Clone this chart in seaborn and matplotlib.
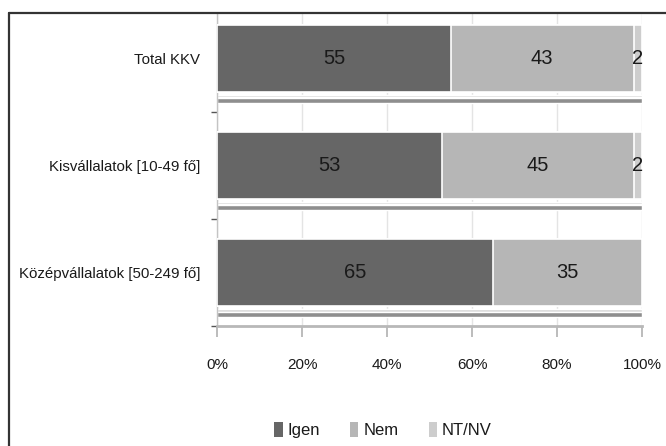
import matplotlib
matplotlib.use("Agg")
import matplotlib.pyplot as plt
from matplotlib.patches import Patch
from matplotlib.lines import Line2D
import numpy as np
import pandas as pd
import seaborn as sns

# Survey answers by company size (percent)
categories = ["Total KKV", "Kisvállalatok [10-49 fő]", "Középvállalatok [50-249 fő]"]
series_names = ["Igen", "Nem", "NT/NV"]
igen = [55, 53, 65]
nem = [43, 45, 35]
ntnv = [2, 2, 0]
x_ticks = [0, 20, 40, 60, 80, 100]
x_tick_labels = ["0%", "20%", "40%", "60%", "80%", "100%"]

colors = ["#666666", "#b6b6b6", "#cdcdcd"]
text_color = "#1a1a1a"

sns.set_theme(style="white")
plt.rcParams["font.family"] = ["Liberation Sans Narrow", "Liberation Sans", "DejaVu Sans"]

values = np.array([igen, nem, ntnv], dtype=float)
cumulative = values.cumsum(axis=0)

fig = plt.figure(figsize=(6.66, 4.46), dpi=100)
ax = fig.add_axes([217 / 666, 1 - 326 / 446, 425 / 666, 313 / 446])

bar_height = 0.626

# stacked bars: draw the running totals from the widest down
for i in range(len(series_names) - 1, -1, -1):
    df = pd.DataFrame({"cat": categories, "val": cumulative[i]})
    sns.barplot(data=df, x="val", y="cat", orient="h", color=colors[i],
                saturation=1, width=bar_height, edgecolor="white",
                linewidth=1.2, ax=ax, zorder=3)

# thin depth band under each bar
positions = np.arange(len(categories))
totals = cumulative[-1]
ax.barh(positions + 0.352, totals, height=0.025, color="#d6d6d6", zorder=2)
ax.barh(positions + 0.392, totals, height=0.045, color="#8e8e8e", zorder=2)

# value labels at the middle of each segment
for i in range(len(series_names)):
    for j in range(len(categories)):
        v = values[i, j]
        if v <= 0:
            continue
        xc = cumulative[i, j] - v / 2
        ax.text(xc, j, f"{int(v)}", ha="center", va="center",
                fontsize=14.5, color=text_color, zorder=5)

ax.set_xlim(0, 100)
ax.set_ylim(2.5, -0.425)
ax.set_xticks(x_ticks)
ax.set_xticklabels(x_tick_labels)
ax.set_xlabel("")
ax.set_ylabel("")
ax.set_yticks(positions)
ax.set_yticklabels(categories)
ax.set_yticks([0.5, 1.5, 2.5], minor=True)

ax.grid(axis="x", color="#e4e4e4", linewidth=1, zorder=0)
ax.grid(axis="y", visible=False)
ax.set_axisbelow(True)

ax.tick_params(axis="y", which="major", length=0, pad=12, labelsize=10.8,
               labelcolor=text_color)
ax.tick_params(axis="y", which="minor", left=True, length=4, width=1,
               color="#555555")
ax.tick_params(axis="x", which="major", bottom=True, length=8, width=1.2,
               color="#b0b0b0", pad=15, labelsize=11, labelcolor=text_color)

for side in ["top", "right"]:
    ax.spines[side].set_visible(False)
ax.spines["left"].set_color("#c4c4c4")
ax.spines["left"].set_linewidth(1)
ax.spines["bottom"].set_color("#b8b8b8")
ax.spines["bottom"].set_linewidth(2)

# legend below the axis
handles = [Patch(facecolor=c, edgecolor="none") for c in colors]
fig.legend(handles, series_names, loc="center",
           bbox_to_anchor=(383 / 666, 1 - 430 / 446), ncol=3, frameon=False,
           handlelength=0.5, handleheight=1.0, handletextpad=0.3,
           columnspacing=1.8, fontsize=12, labelcolor=text_color)

# chart frame along the left and top edges
fig.add_artist(Line2D([8.5 / 666, 8.5 / 666], [0, 1 - 12.5 / 446],
                      transform=fig.transFigure, color="#333333", linewidth=1.6))
fig.add_artist(Line2D([8.5 / 666, 1], [1 - 12.5 / 446, 1 - 12.5 / 446],
                      transform=fig.transFigure, color="#333333", linewidth=1.6))

fig.savefig("out.png", dpi=100, facecolor="white")
